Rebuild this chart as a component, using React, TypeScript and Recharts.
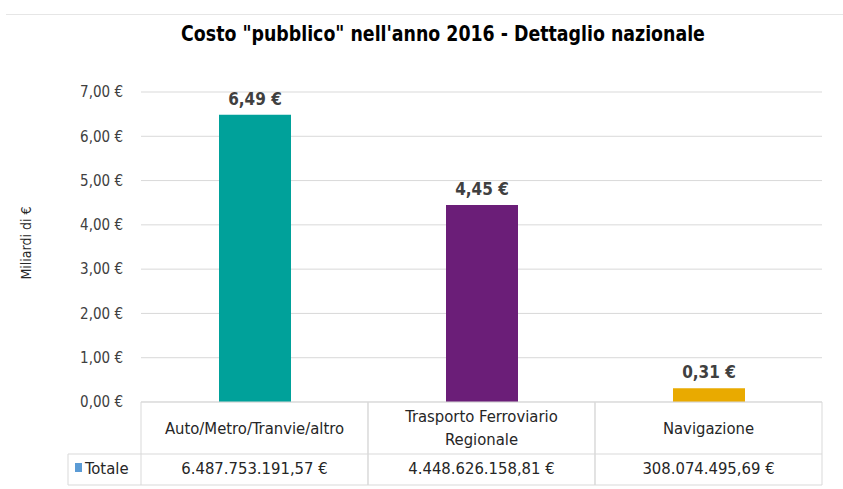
import { BarChart, Bar, XAxis, YAxis, CartesianGrid, LabelList, Cell } from "recharts";

const categories = ["Auto/Metro/Tranvie/altro", "Trasporto Ferroviario\nRegionale", "Navigazione"];
const totals = [6487753191.57, 4448626158.81, 308074495.69];
const colors = ["#00A19A", "#6B1E78", "#E9AA00"];
const yTicks = [0, 1, 2, 3, 4, 5, 6, 7];

const FONT = "'Liberation Sans Narrow', 'DejaVu Sans Condensed', 'Roboto Condensed', sans-serif";
const LINE = "#d9d9d9";

const fmtIt = (v: number, dec: number) => {
  const [int, frac] = v.toFixed(dec).split(".");
  const withDots = int.replace(/\B(?=(\d{3})+(?!\d))/g, ".");
  return frac ? `${withDots},${frac}` : withDots;
};

const data = categories.map((name, i) => ({
  name,
  total: totals[i],
  miliardi: totals[i] / 1e9,
}));

const TableTick = (props: any) => {
  const { x, y, payload, index } = props;
  const half = payload.offset || 113.5;
  const left = x - half;
  const right = x + half;
  const row1 = 52;
  const row2 = 83;
  const lines = String(payload.value).split("\n");
  const total = data[index]?.total ?? 0;
  return (
    <g>
      <line x1={left} y1={y} x2={left} y2={y + row2} stroke={LINE} />
      <line x1={right} y1={y} x2={right} y2={y + row2} stroke={LINE} />
      <line x1={left} y1={y + row1} x2={right} y2={y + row1} stroke={LINE} />
      <line x1={left} y1={y + row2} x2={right} y2={y + row2} stroke={LINE} />
      {lines.map((l, i) => (
        <text
          key={i}
          x={x}
          y={y + 26 + (i - (lines.length - 1) / 2) * 23}
          textAnchor="middle"
          dominantBaseline="central"
          fontSize={16.5}
          fill="#262626"
          fontFamily={FONT}
        >
          {l}
        </text>
      ))}
      <text
        x={x}
        y={y + 66}
        textAnchor="middle"
        dominantBaseline="central"
        fontSize={16.5}
        fill="#262626"
        fontFamily={FONT}
      >
        {fmtIt(total, 2)} €
      </text>
      {index === 0 && (
        <g>
          <line x1={left - 73} y1={y + row1} x2={left} y2={y + row1} stroke={LINE} />
          <line x1={left - 73} y1={y + row2} x2={left} y2={y + row2} stroke={LINE} />
          <line x1={left - 73} y1={y + row1} x2={left - 73} y2={y + row2} stroke={LINE} />
          <rect x={left - 66} y={y + 61} width={7} height={9} fill="#5B9BD5" />
          <text
            x={left - 56}
            y={y + 66}
            dominantBaseline="central"
            fontSize={16.5}
            fill="#262626"
            fontFamily={FONT}
          >
            Totale
          </text>
        </g>
      )}
    </g>
  );
};

export default function App() {
  return (
    <div style={{ position: "absolute", left: 0, top: 0, width: 843, height: 489, background: "#fff" }}>
      <div
        style={{
          position: "absolute",
          left: 6,
          right: 0,
          top: 14,
          borderTop: "1px solid #e6e6e6",
        }}
      />
      <div
        style={{
          position: "absolute",
          left: 0,
          width: 886,
          top: 22,
          textAlign: "center",
          fontFamily: FONT,
          fontWeight: "bold",
          fontSize: 21,
          color: "#000",
          transform: "scaleX(0.92)",
          transformOrigin: "443px 0",
        }}
      >
        Costo "pubblico" nell'anno 2016 - Dettaglio nazionale
      </div>
      <div
        style={{
          position: "absolute",
          left: 26,
          top: 243,
          transform: "translate(-50%, -50%) rotate(-90deg)",
          fontFamily: FONT,
          fontSize: 14,
          color: "#262626",
          whiteSpace: "nowrap",
        }}
      >
        Miliardi di €
      </div>
      <BarChart
        width={843}
        height={489}
        data={data}
        margin={{ top: 92, right: 21, bottom: 0, left: 81 }}
        style={{ position: "absolute", left: 0, top: 0 }}
      >
        <CartesianGrid vertical={false} stroke={LINE} />
        <YAxis
          width={60}
          domain={[0, 7]}
          ticks={yTicks}
          axisLine={false}
          tickLine={false}
          tickSize={0}
          tickMargin={18}
          tickFormatter={(v: number) => `${fmtIt(v, 2)} €`}
          tick={{ fontSize: 15, fill: "#404040", fontFamily: FONT }}
        />
        <XAxis
          dataKey="name"
          height={87}
          axisLine={{ stroke: LINE }}
          tickLine={false}
          tickSize={0}
          tickMargin={0}
          interval={0}
          tick={<TableTick />}
        />
        <Bar dataKey="miliardi" barSize={72} isAnimationActive={false}>
          {data.map((d, i) => (
            <Cell key={d.name} fill={colors[i]} />
          ))}
          <LabelList
            dataKey="miliardi"
            position="top"
            offset={10}
            formatter={(v: any) => `${fmtIt(Number(v), 2)} €`}
            style={{ fontSize: 17, fontWeight: "bold", fill: "#404040", fontFamily: FONT }}
          />
        </Bar>
      </BarChart>
    </div>
  );
}
